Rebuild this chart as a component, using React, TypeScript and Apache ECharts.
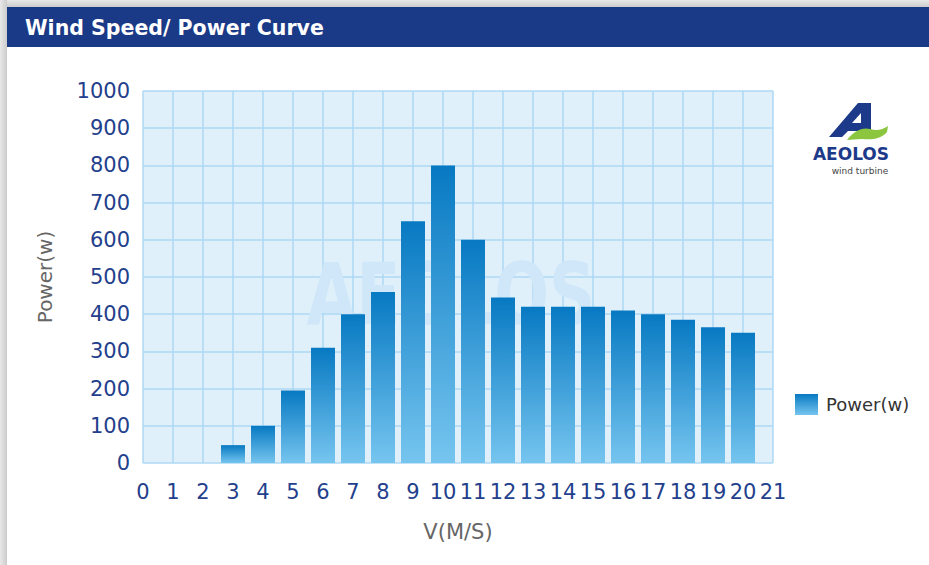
import React, { useEffect, useRef } from "react";
import * as echarts from "echarts";

const titleText = "Wind Speed/ Power Curve";
const seriesName = "Power(w)";
const xAxisName = "V(M/S)";
const yAxisName = "Power(w)";
const speeds = [3, 4, 5, 6, 7, 8, 9, 10, 11, 12, 13, 14, 15, 16, 17, 18, 19, 20];
const powers = [48, 100, 195, 310, 400, 460, 650, 800, 600, 445, 420, 420, 420, 410, 400, 385, 365, 350];
const xMin = 0;
const xMax = 21;
const yMin = 0;
const yMax = 1000;
const yStep = 100;
const watermarkText = "AEOLOS";
const logoText = "AEOLOS";
const logoSubText = "wind turbine";

const FONT = "DejaVu Sans";

echarts.graphic.registerShape(
  "aeolosSwoosh",
  echarts.graphic.extendPath(
    "M847,140 C854,131 862,127 870,129 C877,131 882,130 888,126 L887,132 C881,139 872,140 862,139 C856,139 851,140 847,140 Z",
    {}
  )
);

export default function App() {
  const ref = useRef<HTMLDivElement>(null);

  useEffect(() => {
    if (!ref.current) return;
    const chart = echarts.init(ref.current, undefined, { renderer: "svg" });
    const barGradient = new echarts.graphic.LinearGradient(0, 0, 0, 1, [
      { offset: 0, color: "#0779c2" },
      { offset: 1, color: "#76c5ef" },
    ]);
    const data = speeds.map((s, i) => [s, powers[i]]);
    chart.setOption({
      animation: false,
      backgroundColor: "#ffffff",
      grid: { left: 143, right: 156, top: 91, bottom: 102, containLabel: false },
      xAxis: {
        type: "value",
        min: xMin,
        max: xMax,
        interval: 1,
        name: xAxisName,
        nameLocation: "middle",
        nameGap: 58,
        nameTextStyle: { fontFamily: FONT, fontSize: 21, color: "#666666" },
        axisLine: { show: false },
        axisTick: { show: false },
        axisLabel: { margin: 18, fontFamily: FONT, fontSize: 21, color: "#243f8c", formatter: (v: number) => String(v) },
        splitLine: { show: true, lineStyle: { color: "#acd8f4", width: 1.5 } },
      },
      yAxis: {
        type: "value",
        min: yMin,
        max: yMax,
        interval: yStep,
        name: yAxisName,
        nameLocation: "middle",
        nameRotate: 90,
        nameGap: 88,
        nameTextStyle: { fontFamily: FONT, fontSize: 20, color: "#666666" },
        axisLine: { show: false },
        axisTick: { show: false },
        axisLabel: { margin: 13, fontFamily: FONT, fontSize: 21, color: "#243f8c", formatter: (v: number) => String(v) },
        splitLine: { show: true, lineStyle: { color: "#acd8f4", width: 1.5 } },
      },
      legend: {
        data: [seriesName],
        left: 790,
        top: 389,
        icon: "rect",
        itemWidth: 23,
        itemHeight: 21,
        textStyle: { fontFamily: FONT, fontSize: 18, color: "#333333", padding: [0, 0, 0, 3] },
      },
      series: [
        {
          name: seriesName,
          type: "bar",
          data,
          barWidth: 24,
          itemStyle: { color: barGradient },
          z: 3,
        },
      ],
      graphic: [
        {
          type: "rect",
          z: -5,
          shape: { x: 0, y: 0, width: 929, height: 7 },
          style: {
            fill: new echarts.graphic.LinearGradient(0, 0, 0, 1, [
              { offset: 0, color: "#e8e8e8" },
              { offset: 1, color: "#cccccc" },
            ]),
          },
        },
        {
          type: "rect",
          z: -5,
          shape: { x: 0, y: 0, width: 7, height: 565 },
          style: {
            fill: new echarts.graphic.LinearGradient(0, 0, 1, 0, [
              { offset: 0, color: "#e8e8e8" },
              { offset: 1, color: "#cccccc" },
            ]),
          },
        },
        {
          type: "rect",
          z: -4,
          shape: { x: 7, y: 7, width: 922, height: 40 },
          style: { fill: "#1a3987" },
        },
        {
          type: "text",
          z: 5,
          x: 25,
          y: 28,
          style: {
            text: titleText,
            fill: "#ffffff",
            font: `bold 20.5px "${FONT}"`,
            verticalAlign: "middle",
          },
        },
        {
          type: "rect",
          z: -3,
          shape: { x: 143, y: 91, width: 630, height: 372 },
          style: { fill: "#dff0fb" },
        },
        {
          type: "text",
          z: 1,
          x: 451,
          y: 294,
          scaleX: 0.75,
          style: {
            text: watermarkText,
            fill: "#cfe7f8",
            font: `bold 86px "${FONT}"`,
            align: "center",
            verticalAlign: "middle",
          },
        },
        {
          type: "polygon",
          z: 5,
          shape: {
            points: [
              [858, 103],
              [871, 103],
              [871, 131],
              [848, 131],
              [842, 137],
              [829, 137],
            ],
          },
          style: { fill: "#1d3a8a" },
        },
        {
          type: "polygon",
          z: 6,
          shape: {
            points: [
              [861, 113],
              [861, 123],
              [852, 123],
            ],
          },
          style: { fill: "#ffffff" },
        },
        {
          type: "aeolosSwoosh",
          z: 7,
          x: 0,
          y: 0,
          style: { fill: "#8cc63f" },
        },
        {
          type: "text",
          z: 5,
          x: 851,
          y: 154,
          style: {
            text: logoText,
            fill: "#1d3a8a",
            font: `bold 17px "${FONT}"`,
            align: "center",
            verticalAlign: "middle",
          },
        },
        {
          type: "text",
          z: 5,
          x: 860,
          y: 170.5,
          style: {
            text: logoSubText,
            fill: "#444444",
            font: `9px "${FONT}"`,
            align: "center",
            verticalAlign: "middle",
          },
        },
      ],
    });
    return () => chart.dispose();
  }, []);

  return (
    <div
      ref={ref}
      style={{ position: "absolute", left: 0, top: 0, width: 929, height: 565 }}
    />
  );
}
